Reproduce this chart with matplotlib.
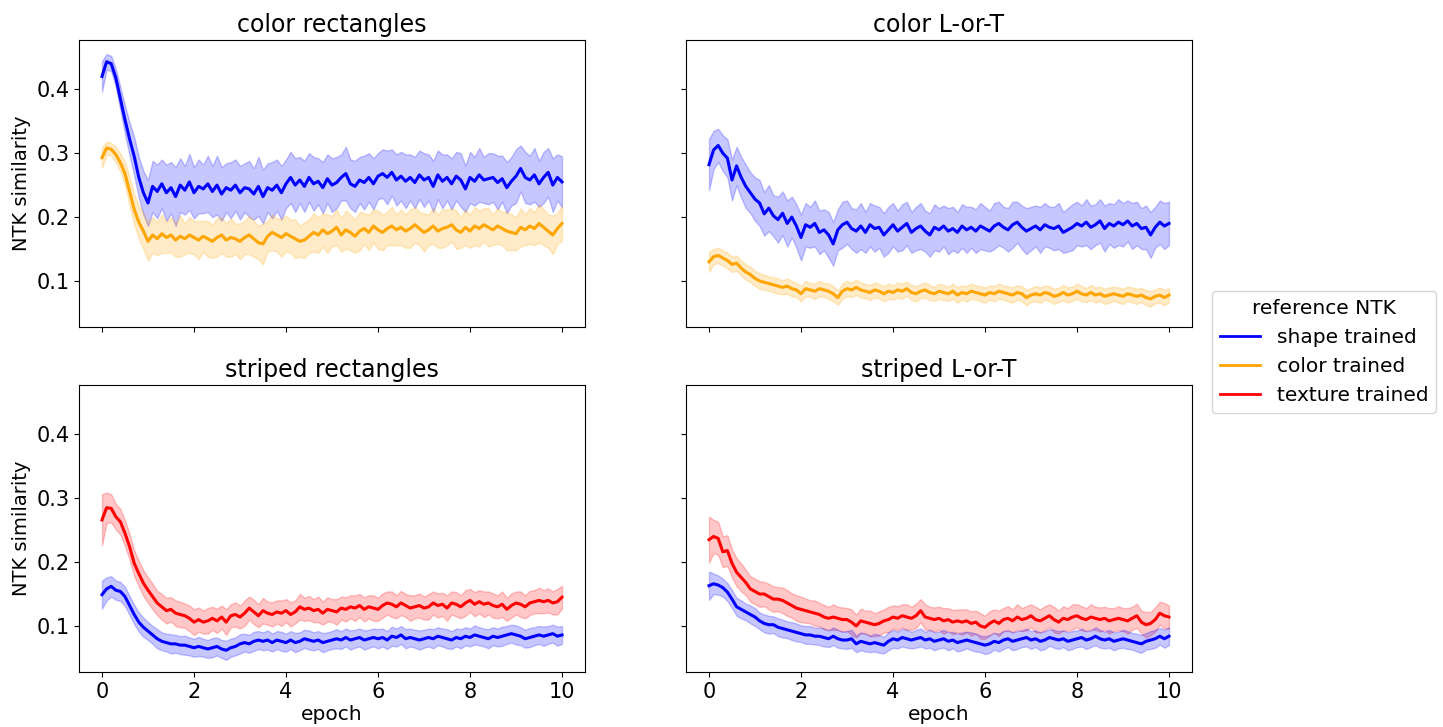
import numpy as np
import matplotlib
matplotlib.use("Agg")
import matplotlib.pyplot as plt

# epochs sampled every 0.1
epochs = np.round(np.arange(0, 101) * 0.1, 1)

panel_titles = ["color rectangles", "color L-or-T", "striped rectangles", "striped L-or-T"]
legend_title = "reference NTK"
series_labels = ["shape trained", "color trained", "texture trained"]
series_colors = ["blue", "orange", "red"]

# values in thousandths of NTK similarity
cr_shape = [420,443,440,418,385,352,322,295,262,238,222,248,240,252,238,246,232,250,242,255,238,
            248,244,252,240,250,236,246,242,250,238,246,244,236,248,232,246,242,250,238,252,
            262,250,258,248,262,252,256,246,260,250,254,262,268,252,248,258,254,262,252,264,
            268,262,270,258,264,256,262,254,266,258,262,248,266,256,262,252,264,258,244,262,
            256,266,258,260,262,254,260,246,256,264,276,262,258,266,252,262,270,250,262,255]
cr_shape_sd = [24,12,12,14,18,22,26,30,32,34,36,40,42,38,44,40,46,42,38,44,40,
               42,38,44,40,46,42,38,44,40,42,38,44,40,46,42,38,44,40,42,38,
               40,42,36,40,38,42,36,40,38,42,40,36,42,38,40,36,42,38,40,36,
               38,42,36,40,38,42,36,40,38,42,36,40,38,42,36,40,38,42,36,40,
               38,42,36,40,38,42,36,40,38,42,36,40,38,42,36,40,38,42,36,40]
cr_color = [293,308,306,298,285,268,240,212,192,178,162,172,166,174,168,172,164,170,166,172,168,
            164,170,166,162,168,172,164,168,166,162,168,172,166,160,158,170,176,172,168,174,
            170,166,162,164,170,176,172,180,174,178,184,172,180,176,170,178,182,176,186,180,
            176,182,186,180,184,178,182,188,182,176,180,186,178,182,184,188,180,176,184,178,
            186,182,188,184,180,186,182,178,176,174,184,180,186,182,190,184,178,172,182,190]
cr_color_sd = [16,10,10,12,14,18,22,24,26,28,30,28,26,30,24,28,26,32,24,28,26,
               30,24,28,26,30,28,26,30,24,28,26,30,28,26,32,24,28,26,30,28,
               26,30,24,28,26,30,28,26,30,24,28,26,30,28,26,30,24,28,26,30,
               28,26,30,24,28,26,30,28,26,30,24,28,26,30,28,26,30,24,28,26,
               30,28,26,30,24,28,26,30,28,26,30,24,28,26,30,28,26,30,24,28]

cl_shape = [282,305,312,300,292,258,280,262,248,238,228,222,205,214,202,196,206,190,200,186,168,
            188,184,190,176,180,172,158,180,188,192,182,178,186,176,188,182,184,172,180,188,
            178,184,190,176,182,186,178,172,184,180,186,178,182,176,186,180,184,178,186,182,
            178,186,190,184,180,188,192,184,178,182,186,180,188,184,182,186,176,180,184,190,
            186,192,184,188,194,182,190,186,192,188,194,186,190,182,184,172,184,192,186,190]
cl_shape_sd = [40,30,26,28,30,32,30,32,34,32,34,36,34,36,32,36,34,36,32,34,36,
               34,32,36,34,32,36,34,32,36,34,32,34,36,32,34,36,32,34,36,34,
               32,36,34,32,34,36,32,34,36,34,32,36,34,32,34,36,32,34,36,34,
               32,36,34,32,34,36,32,34,36,34,32,36,34,32,34,36,32,34,36,34,
               32,36,34,32,34,36,32,34,36,34,32,36,34,32,34,36,32,34,36,34]
cl_color = [130,138,140,136,132,126,128,120,114,110,104,100,98,96,94,92,90,92,88,86,80,
            88,86,84,88,86,84,80,74,84,88,86,90,86,84,82,86,84,80,84,82,
            86,84,88,82,80,84,86,82,80,84,82,80,84,78,82,80,84,82,80,78,
            82,80,84,82,80,78,82,80,74,78,80,78,82,80,76,78,82,78,80,84,
            80,78,82,78,80,76,78,80,78,76,80,78,76,78,74,72,76,78,74,78]
cl_color_sd = [16,12,12,12,12,12,12,12,12,12,12,12,12,11,12,12,11,12,12,11,12,
               12,11,12,12,11,12,12,11,12,12,11,12,12,11,12,12,11,12,12,11,
               12,12,11,12,12,11,12,12,11,12,12,11,12,12,11,12,12,11,12,12,
               11,12,12,11,12,12,11,12,12,11,12,12,11,12,12,11,12,12,11,12,
               12,11,12,12,11,12,12,11,12,12,11,12,12,11,12,12,11,12,12,11]

sr_texture = [266,285,284,271,263,245,224,198,182,167,156,146,136,130,124,126,120,118,116,112,106,
              110,106,108,112,108,114,106,116,118,114,120,128,122,116,124,120,118,122,120,124,
              118,122,130,126,128,124,126,120,126,124,122,128,126,130,128,132,126,130,128,126,
              132,136,134,130,136,132,128,130,132,128,130,136,132,134,128,136,134,130,136,140,
              134,138,134,136,132,130,134,126,132,136,134,130,136,138,140,138,140,136,138,145]
sr_texture_sd = [40,24,22,20,20,20,20,20,20,20,20,20,19,20,20,19,20,20,19,20,20,
                 19,18,20,18,19,18,20,18,19,18,20,18,19,18,20,18,19,18,20,18,
                 19,18,20,18,19,18,20,18,19,18,20,18,19,18,20,18,19,18,20,18,
                 19,18,20,18,19,18,20,18,19,18,20,18,19,18,20,18,19,18,20,18,
                 19,18,20,18,19,18,20,18,19,18,20,18,19,18,20,18,19,18,20,18]
sr_shape = [149,158,162,156,154,146,132,118,106,98,92,86,80,76,74,72,72,70,70,68,66,
            68,66,64,66,68,64,62,66,68,72,74,72,76,78,76,78,74,78,76,74,
            78,74,76,80,78,76,78,74,76,78,80,78,82,78,80,82,78,80,82,80,
            82,78,84,82,86,80,82,80,78,80,82,80,84,82,80,78,82,80,84,82,
            86,84,82,80,84,82,84,86,88,86,84,80,82,84,86,84,86,88,84,86]
sr_shape_sd = [22,18,16,15,15,15,15,15,15,15,14,14,15,14,14,15,14,14,15,14,14,
               15,14,14,15,14,14,15,14,14,15,14,14,15,14,14,15,14,14,15,14,
               14,15,14,14,15,14,14,15,14,14,15,14,14,15,14,14,15,14,14,15,
               14,14,15,14,14,15,14,14,15,14,14,15,14,14,15,14,14,15,14,14,
               15,14,14,15,14,14,15,14,14,15,14,14,15,14,14,15,14,14,15,14]

sl_texture = [235,240,237,216,218,198,184,176,168,158,154,150,150,146,142,142,140,136,132,128,126,
              124,122,120,118,114,112,114,112,110,110,106,100,108,106,104,102,104,108,110,114,
              112,116,114,112,116,124,114,112,110,112,108,110,106,108,106,108,104,106,100,98,
              104,108,104,110,112,108,114,110,112,116,110,108,112,116,110,106,112,110,114,116,
              112,110,114,112,110,112,108,110,112,110,108,112,116,106,102,104,110,120,116,114]
sl_texture_sd = [36,26,26,24,24,22,22,22,20,20,20,20,19,20,20,19,20,20,19,20,20,
                 19,18,20,18,19,18,20,18,19,18,20,18,19,18,20,18,19,18,20,18,
                 19,18,20,18,19,18,20,18,19,18,20,18,19,18,20,18,19,18,20,18,
                 19,18,20,18,19,18,20,18,19,18,20,18,19,18,20,18,19,18,20,18,
                 19,18,20,18,19,18,20,18,19,18,20,18,19,18,20,18,19,18,20,18]
sl_shape = [163,166,164,160,153,142,130,126,122,118,114,108,104,102,102,98,96,94,92,90,88,
            86,86,84,84,82,80,84,80,78,78,80,72,76,74,72,74,72,70,76,80,
            78,82,80,78,80,82,78,80,76,78,80,76,78,74,76,78,76,74,72,70,
            72,76,74,78,80,76,78,80,82,78,80,76,78,82,80,78,80,76,78,80,
            82,78,80,84,80,78,80,76,78,80,78,76,74,72,76,78,80,84,80,84]
sl_shape_sd = [22,16,15,14,14,14,14,14,13,14,14,13,14,14,13,14,14,13,14,14,13,
               14,14,13,14,14,13,14,14,13,14,14,13,14,14,13,14,14,13,14,14,
               13,14,14,13,14,14,13,14,14,13,14,14,13,14,14,13,14,14,13,14,
               14,13,14,14,13,14,14,13,14,14,13,14,14,13,14,14,13,14,14,13,
               14,14,13,14,14,13,14,14,13,14,14,13,14,14,13,14,14,13,14,14]

panels = [
    [(cr_shape, cr_shape_sd, 0), (cr_color, cr_color_sd, 1)],
    [(cl_shape, cl_shape_sd, 0), (cl_color, cl_color_sd, 1)],
    [(sr_texture, sr_texture_sd, 2), (sr_shape, sr_shape_sd, 0)],
    [(sl_texture, sl_texture_sd, 2), (sl_shape, sl_shape_sd, 0)],
]

W, H = 1443, 727
fig = plt.figure(figsize=(W / 100, H / 100), dpi=100)
rects = [(79, 40), (686, 40), (79, 385), (686, 385)]
aw, ah = 506, 287

axes = []
for i, (x0, y0) in enumerate(rects):
    ax = fig.add_axes([x0 / W, 1 - (y0 + ah) / H, aw / W, ah / H])
    axes.append(ax)
    for vals, sd, ci in panels[i]:
        m = np.array(vals) / 1000.0
        s = np.array(sd) / 1000.0
        c = series_colors[ci]
        ax.fill_between(epochs, m - s, m + s, color=c, alpha=0.22, linewidth=1)
        ax.plot(epochs, m, color=c, lw=2.2)
    ax.set_title(panel_titles[i], fontsize=17)
    ax.set_xlim(-0.5, 10.5)
    ax.set_ylim(0.028, 0.477)
    ax.set_xticks([0, 2, 4, 6, 8, 10])
    ax.set_yticks([0.1, 0.2, 0.3, 0.4])
    ax.tick_params(labelsize=15)
    if i < 2:
        ax.set_xticklabels([])
    else:
        ax.set_xlabel("epoch", fontsize=14.5, labelpad=2)
    if i % 2 == 1:
        ax.set_yticklabels([])
    else:
        ax.set_ylabel("NTK similarity", fontsize=14)

handles = [plt.Line2D([], [], color=c, lw=2) for c in series_colors]
fig.legend(handles, series_labels, title=legend_title, loc="center left",
           bbox_to_anchor=(1202 / W, 1 - 352 / H), fontsize=14.5, title_fontsize=14.5)

fig.savefig("out.png", dpi=100)
